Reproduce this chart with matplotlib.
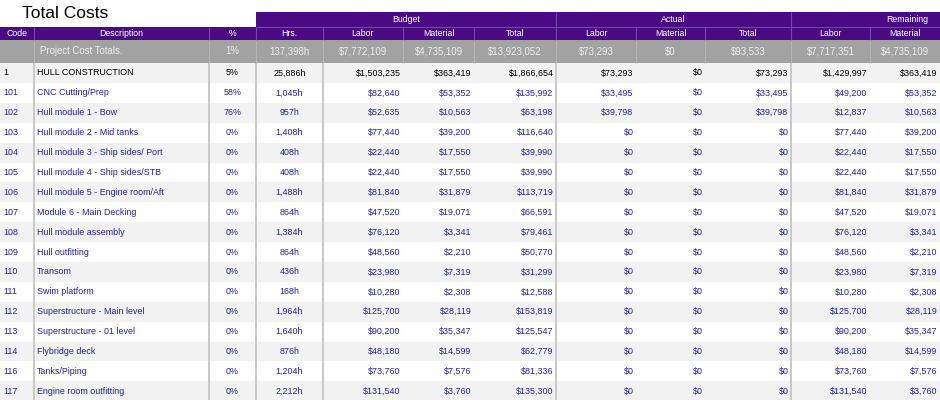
import matplotlib
matplotlib.use("Agg")
import matplotlib.pyplot as plt
from matplotlib.patches import Rectangle

plt.rcParams['font.family'] = ['Liberation Sans', 'DejaVu Sans']

# ---- data ----
codes = ["1", "101", "102", "103", "104", "105", "106", "107", "108", "109",
         "110", "111", "112", "113", "114", "116", "117"]
descs = ["HULL CONSTRUCTION", "CNC Cutting/Prep", "Hull module 1 - Bow",
         "Hull module 2 - Mid tanks", "Hull module 3 - Ship sides/ Port",
         "Hull module 4 - Ship sides/STB", "Hull module 5 - Engine room/Aft",
         "Module 6 - Main Decking", "Hull module assembly", "Hull outfitting",
         "Transom", "Swim platform", "Superstructure - Main level",
         "Superstructure - 01 level", "Flybridge deck", "Tanks/Piping",
         "Engine room outfitting"]
pct = [5, 58, 76, 0, 0, 0, 0, 0, 0, 0, 0, 0, 0, 0, 0, 0, 0]
hrs = [25886, 1045, 957, 1408, 408, 408, 1488, 864, 1384, 864, 436, 168,
       1964, 1640, 876, 1204, 2212]
b_labor = [1503235, 82640, 52635, 77440, 22440, 22440, 81840, 47520, 76120,
           48560, 23980, 10280, 125700, 90200, 48180, 73760, 131540]
b_mat = [363419, 53352, 10563, 39200, 17550, 17550, 31879, 19071, 3341,
         2210, 7319, 2308, 28119, 35347, 14599, 7576, 3760]
b_total = [1866654, 135992, 63198, 116640, 39990, 39990, 113719, 66591,
           79461, 50770, 31299, 12588, 153819, 125547, 62779, 81336, 135300]
a_labor = [73293, 33495, 39798] + [0] * 14
a_mat = [0] * 17
a_total = [73293, 33495, 39798] + [0] * 14
r_labor = [1429997, 49200, 12837, 77440, 22440, 22440, 81840, 47520, 76120,
           48560, 23980, 10280, 125700, 90200, 48180, 73760, 131540]
r_mat = [363419, 53352, 10563, 39200, 17550, 17550, 31879, 19071, 3341,
         2210, 7319, 2308, 28119, 35347, 14599, 7576, 3760]

totals_label = "Project Cost Totals."
totals = ["1%", "137,398h", "$7,772,109", "$4,735,109", "$13,923,052",
          "$73,293", "$0", "$93,533", "$7,717,351", "$4,735,109"]

col_names = ["Code", "Description", "%", "Hrs.", "Labor", "Material", "Total",
             "Labor", "Material", "Total", "Labor", "Material"]
groups = ["Budget", "Actual", "Remaining"]

# ---- layout (pixels) ----
edges = [0, 34, 209, 256, 323, 403, 474, 556, 636, 705, 791, 870, 940]
purple = "#4a0a84"
purple_line = "#7446ad"
blue = "#2121b0"
y_g0, y_g1 = 12, 27
y_h1 = 40
y_t1 = 63
row_h = 19.9

fig = plt.figure(figsize=(9.4, 4), dpi=100)
ax = fig.add_axes([0, 0, 1, 1])
ax.set_xlim(0, 940)
ax.set_ylim(400, 0)
ax.axis('off')

ax.text(22, 13, "Total Costs", fontsize=12.5, va='center', ha='left', color='black')

# header bands
ax.add_patch(Rectangle((256, y_g0), 940 - 256, y_g1 - y_g0, color=purple, lw=0))
ax.add_patch(Rectangle((0, y_g1), 940, y_h1 - y_g1, color=purple, lw=0))
ax.hlines(y_g1, 256, 940, color=purple_line, lw=0.8)
for x in [556, 791]:
    ax.vlines(x, y_g0, y_g1, color=purple_line, lw=0.8)
for x in edges[1:-1]:
    ax.vlines(x, y_g1, y_h1, color=purple_line, lw=0.8)

group_x = [406, 673.5, 907]
for g, gx in zip(groups, group_x):
    ax.text(gx, (y_g0 + y_g1) / 2, g, color='white', fontsize=6.3,
            ha='center', va='center')
for i, name in enumerate(col_names):
    cx = (edges[i] + edges[i + 1]) / 2
    ax.text(cx, (y_h1 + y_g1) / 2, name, color='white', fontsize=6.3,
            ha='center', va='center')

# totals row
ax.add_patch(Rectangle((0, y_h1), 940, y_t1 - y_h1, color="#a2a2a2", lw=0))
for x in edges[1:-1]:
    ax.vlines(x, y_h1, y_t1, color="#b4b4b4", lw=0.8)
ty = (y_h1 + y_t1) / 2
ax.text(40, ty, totals_label, color="#eeeeee", fontsize=6.9, ha='left', va='center')
for i, t in enumerate(totals):
    cx = (edges[i + 2] + edges[i + 3]) / 2
    ax.text(cx, ty, t, color="#eeeeee", fontsize=6.9, ha='center', va='center')

# data rows
money_cols = [b_labor, b_mat, b_total, a_labor, a_mat, a_total, r_labor, r_mat]
n = len(codes)
for r in range(n):
    y0 = y_t1 + r * row_h
    yc = y0 + row_h / 2
    if r % 2 == 0:
        ax.add_patch(Rectangle((0, y0), 940, row_h, color="#f2f2f2", lw=0))
    c = 'black' if r == 0 else blue
    fs = 6.4
    ax.text(3, yc, codes[r], color=c, fontsize=fs, ha='left', va='center')
    ax.text(37, yc, descs[r], color=c, fontsize=fs, ha='left', va='center')
    ax.text((edges[2] + edges[3]) / 2, yc, f"{pct[r]}%", color=c, fontsize=fs,
            ha='center', va='center')
    ax.text((edges[3] + edges[4]) / 2, yc, f"{hrs[r]:,}h", color=c, fontsize=fs,
            ha='center', va='center')
    for j, col in enumerate(money_cols):
        xr = edges[j + 5] - 2.5
        ax.text(xr, yc, f"${col[r]:,}", color=c, fontsize=fs, ha='right', va='center')

for x in [34, 209, 256, 323, 556, 791]:
    ax.vlines(x, y_t1, 400, color="#c8c8c8", lw=1.4)

fig.savefig("out.png", dpi=100)
